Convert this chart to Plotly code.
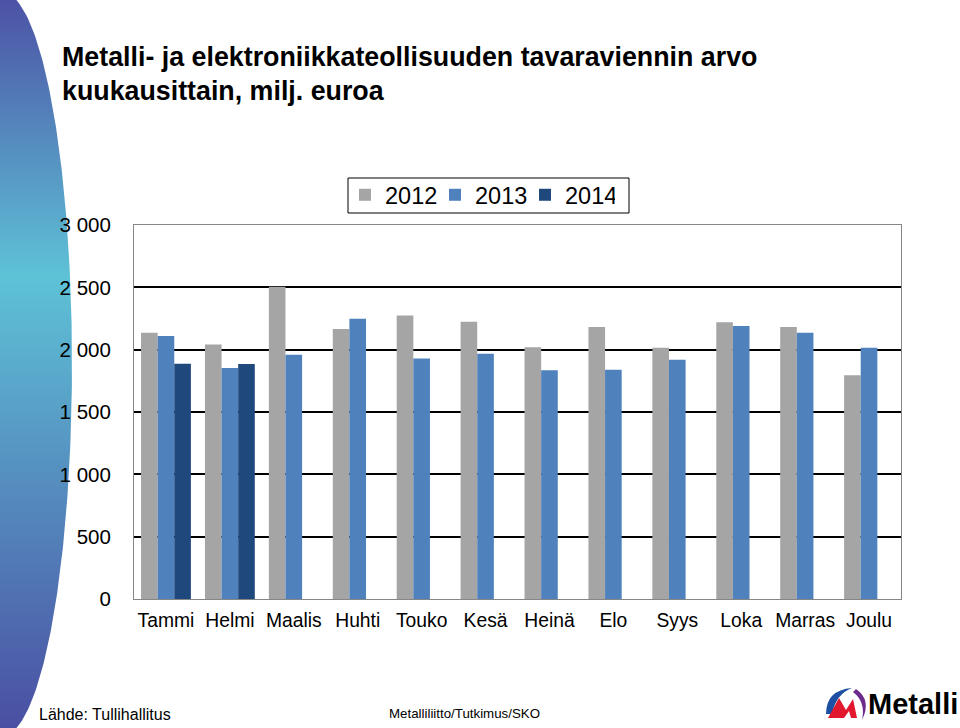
import numpy as np
import plotly.graph_objects as go

months = ["Tammi", "Helmi", "Maalis", "Huhti", "Touko", "Kesä", "Heinä",
          "Elo", "Syys", "Loka", "Marras", "Joulu"]
v2012 = [2136, 2042, 2505, 2165, 2274, 2224, 2019, 2181, 2016, 2219, 2181, 1795]
v2013 = [2109, 1853, 1960, 2248, 1930, 1968, 1834, 1839, 1919, 2189, 2136, 2016]
v2014 = [1888, 1885, None, None, None, None, None, None, None, None, None, None]
series = [("2012", v2012, "#a5a5a5"), ("2013", v2013, "#4f81bd"), ("2014", v2014, "#1f497d")]
y_ticks = [0, 500, 1000, 1500, 2000, 2500, 3000]
y_tick_labels = ["0", "500", "1 000", "1 500", "2 000", "2 500", "3 000"]

W, H = 960, 728
PL, PR, PT, PB = 134, 901, 225, 599
FONT = "Liberation Sans, Arial, sans-serif"

fig = go.Figure()

# decorative gradient half-ellipse on the left (background subplot x/y, pixel coords)
yy = np.linspace(0, H, 200)
xx = 2 + 70 * np.sqrt(np.clip(1 - ((yy - 364) / 372) ** 2, 0, 1))
ex = np.concatenate([[0], xx, [0]])
ey = np.concatenate([[0], yy, [H]])
fig.add_trace(go.Scatter(
    x=ex, y=ey, xaxis="x", yaxis="y", mode="lines", line=dict(width=0),
    fill="toself", showlegend=False, hoverinfo="skip",
    fillgradient=dict(type="vertical", start=0, stop=H,
                      colorscale=[[0, "#4c52a5"], [0.38, "#5ec2d7"], [1, "#4a4fa2"]]),
))

for name, vals, col in series:
    fig.add_trace(go.Bar(x=months, y=vals, name=name, marker_color=col,
                         marker_line_width=0, xaxis="x2", yaxis="y2"))

fig.update_layout(
    width=W, height=H,
    margin=dict(l=0, r=0, t=0, b=0, autoexpand=False),
    paper_bgcolor="white", plot_bgcolor="rgba(0,0,0,0)",
    barmode="group", bargap=0.22, bargroupgap=0,
    font=dict(family=FONT, color="black"),
    xaxis=dict(domain=[0, 1], range=[0, W], visible=False, fixedrange=True, anchor="y"),
    yaxis=dict(domain=[0, 1], range=[H, 0], visible=False, fixedrange=True, anchor="x"),
    xaxis2=dict(domain=[PL / W, PR / W], showgrid=False, showline=True, mirror=True,
                linecolor="#868686", linewidth=1, ticks="", tickfont=dict(size=19.3),
                ticklabelstandoff=4, anchor="y2", automargin=False),
    yaxis2=dict(domain=[(H - PB) / H, (H - PT) / H], range=[0, 3000], tickvals=y_ticks,
                ticktext=y_tick_labels, showgrid=True, gridcolor="black", gridwidth=1.5,
                showline=True, mirror=True, linecolor="#868686", linewidth=1,
                zeroline=False, ticks="", tickfont=dict(size=20.5), ticklabelstandoff=18,
                anchor="x2", automargin=False),
    legend=dict(orientation="h", x=480 / W, y=(H - 195) / H, xref="paper", yref="paper",
                xanchor="center", yanchor="middle", borderwidth=0,
                font=dict(size=23.5), bgcolor="rgba(0,0,0,0)", itemwidth=30,
                entrywidth=45, entrywidthmode="pixels"),
    showlegend=True,
)

# legend frame
fig.add_shape(type="rect", x0=348, x1=629, y0=178, y1=213, xref="x", yref="y",
              line=dict(color="black", width=1), fillcolor="white", layer="above")

def ann(text, x, y, size, xanchor="left", bold=False, family=FONT, color="black"):
    fig.add_annotation(text=("<b>%s</b>" % text) if bold else text, x=x, y=y,
                       xref="x", yref="y", showarrow=False, xanchor=xanchor,
                       yanchor="middle", font=dict(size=size, family=family, color=color))

ann("Metalli- ja elektroniikkateollisuuden tavaraviennin arvo", 60, 57, 26.8, bold=True)
ann("kuukausittain, milj. euroa", 60, 91, 26.8, bold=True)
ann("Lähde: Tullihallitus", 37, 714, 16)
ann("Metalliliitto/Tutkimus/SKO", 387, 713, 13.3)
ann("Metalli", 913, 704, 29, xanchor="center", bold=True)

# simple logo marks
shape_common = dict(xref="x", yref="y", line=dict(width=0), layer="above")
fig.add_shape(type="path", path="M 826 714 Q 826 690 852 688 Q 836 694 832 714 Z",
              fillcolor="#1d4fa3", **shape_common)
fig.add_shape(type="path",
              path="M 828 718 L 839 698 L 846 710 L 853 699 L 857 718 L 851 718 L 849 711 L 844 718 Z",
              fillcolor="#e2192e", **shape_common)
fig.add_shape(type="path", path="M 856 689 Q 872 700 862 720 Q 866 702 853 692 Z",
              fillcolor="#6a2b8c", **shape_common)

fig.write_html("out.html", config={"displayModeBar": False},
               post_script="document.body.style.margin='0';")
